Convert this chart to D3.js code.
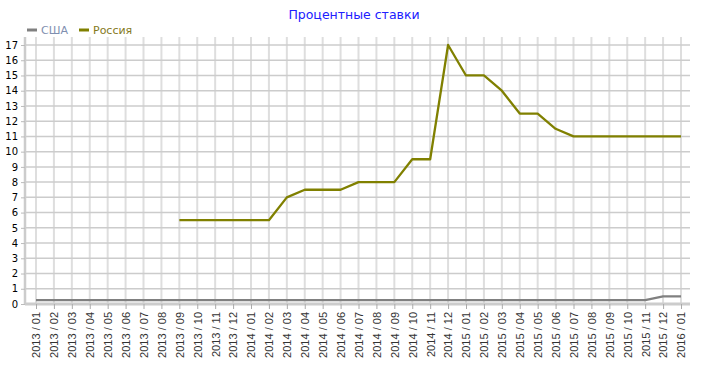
<!DOCTYPE html>
<html><head><meta charset="utf-8">
<script src="https://cdn.jsdelivr.net/npm/d3@7"></script>
<style>body{margin:0;background:#fff}svg{display:block}</style>
</head><body>
<svg id="c" width="704" height="383"></svg>
<script>
const months = ["2013 / 01","2013 / 02","2013 / 03","2013 / 04","2013 / 05","2013 / 06","2013 / 07","2013 / 08","2013 / 09","2013 / 10","2013 / 11","2013 / 12",
"2014 / 01","2014 / 02","2014 / 03","2014 / 04","2014 / 05","2014 / 06","2014 / 07","2014 / 08","2014 / 09","2014 / 10","2014 / 11","2014 / 12",
"2015 / 01","2015 / 02","2015 / 03","2015 / 04","2015 / 05","2015 / 06","2015 / 07","2015 / 08","2015 / 09","2015 / 10","2015 / 11","2015 / 12","2016 / 01"];
const usa = [0.25,0.25,0.25,0.25,0.25,0.25,0.25,0.25,0.25,0.25,0.25,0.25,
0.25,0.25,0.25,0.25,0.25,0.25,0.25,0.25,0.25,0.25,0.25,0.25,
0.25,0.25,0.25,0.25,0.25,0.25,0.25,0.25,0.25,0.25,0.25,0.5,0.5];
const russia = [null,null,null,null,null,null,null,null,5.5,5.5,5.5,5.5,
5.5,5.5,7,7.5,7.5,7.5,8,8,8,9.5,9.5,17,
15,15,14,12.5,12.5,11.5,11,11,11,11,11,11,11];
const yTicks = d3.range(0,18);
const seriesNames = ["США","Россия"];
const seriesColors = ["#808080","#808000"];
const legendTextColors = ["#7f8fb0","#857a1c"];
const title = "Процентные ставки";

const svg = d3.select("#c");
const pL = 25, pR = 690, pT = 37, pB = 304;
const x = d3.scalePoint().domain(months).range([36, 681]);
const y = d3.scaleLinear().domain([0,17]).range([pB, 45]);

// grid
svg.append("g").selectAll("line").data(months).join("line")
  .attr("x1", d=>x(d)).attr("x2", d=>x(d)).attr("y1", pT).attr("y2", pB)
  .attr("stroke", "#dedede").attr("stroke-width", 2);
svg.append("g").selectAll("line").data(yTicks.slice(1)).join("line")
  .attr("x1", pL).attr("x2", pR).attr("y1", d=>y(d)).attr("y2", d=>y(d))
  .attr("stroke", "#cccccc").attr("stroke-width", 1.5);

// y axis
const ya = svg.append("g").attr("transform", `translate(${pL},0)`)
  .call(d3.axisLeft(y).tickValues(yTicks).tickSize(4).tickPadding(3).tickFormat(d3.format("d")));
ya.select(".domain").attr("stroke", "#cccccc").attr("stroke-width", 2.5).attr("d", `M0,${pT}V${pB}`);
ya.selectAll(".tick line").attr("stroke", "#bbbbbb");
ya.selectAll("text").attr("font-family", "DejaVu Sans, Verdana").attr("font-size", 10).attr("fill", "#000");

// x axis
const xa = svg.append("g").attr("transform", `translate(0,${pB})`)
  .call(d3.axisBottom(x).tickSize(5).tickPadding(3));
xa.select(".domain").attr("stroke", "#cccccc").attr("stroke-width", 3).attr("d", `M${pL},0H${pR}`);
xa.selectAll(".tick line").attr("stroke", "#aaaaaa");
xa.selectAll("text").attr("font-family", "Liberation Sans, Arial").attr("font-size", 11).attr("fill", "#333")
  .attr("text-anchor", "end").attr("x", 0).attr("y", 0).attr("dy", "0.35em")
  .attr("transform", "translate(0,8) rotate(-90)");

// lines
const line = d3.line().defined(d=>d[1]!=null).x(d=>x(d[0])).y(d=>y(d[1]));
[usa, russia].forEach((s,i)=>{
  svg.append("path").datum(months.map((m,j)=>[m,s[j]]))
    .attr("d", line).attr("fill","none").attr("stroke", seriesColors[i]).attr("stroke-width", 2.3)
    .attr("stroke-linejoin","round");
});

// title
svg.append("text").attr("x", 354).attr("y", 19).attr("text-anchor","middle")
  .attr("font-family","DejaVu Sans, Verdana").attr("font-size", 12.5).attr("fill","#2020ff").text(title);

// legend
const lg = svg.append("g");
const lx = [27, 79];
seriesNames.forEach((n,i)=>{
  lg.append("line").attr("x1", lx[i]).attr("x2", lx[i]+10).attr("y1", 30).attr("y2", 30)
    .attr("stroke", seriesColors[i]).attr("stroke-width", 3);
  lg.append("text").attr("x", lx[i]+14).attr("y", 34).attr("font-family","DejaVu Sans, Verdana")
    .attr("font-size", 11).attr("fill", legendTextColors[i]).text(n);
});
</script>
</body></html>
